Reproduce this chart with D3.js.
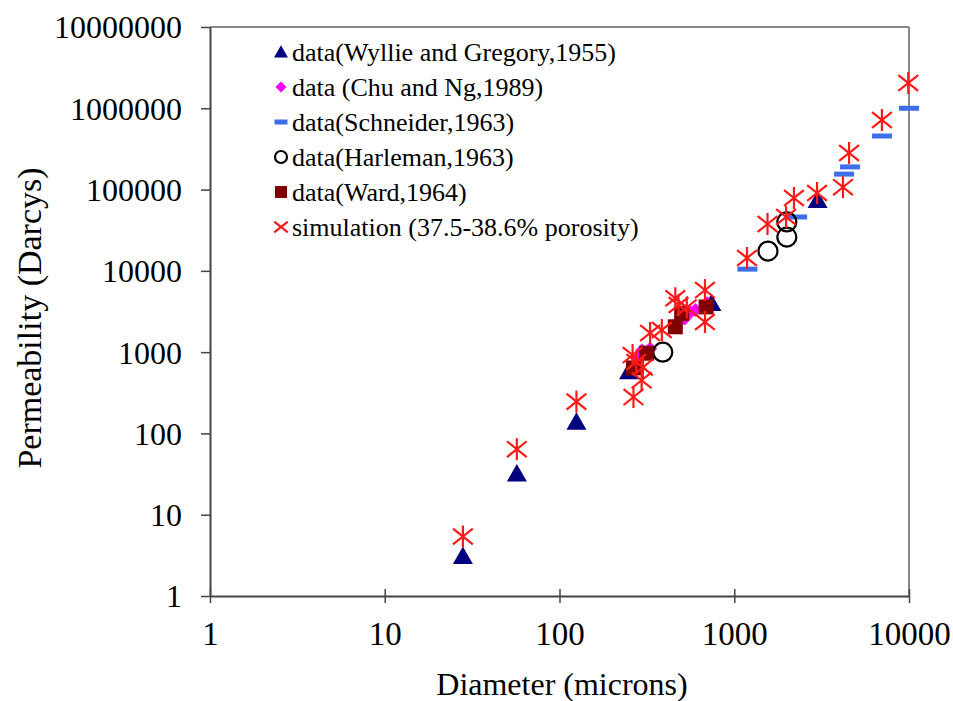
<!DOCTYPE html>
<html>
<head>
<meta charset="utf-8">
<script src="https://cdn.jsdelivr.net/npm/d3@7"></script>
<style>
  html, body { margin: 0; padding: 0; background: #fff; }
  svg text { font-family: "Liberation Serif", "Tinos", "Times New Roman", "DejaVu Serif", serif !important; fill: #000; }
</style>
</head>
<body>
<svg id="chart" width="953" height="701"></svg>
<script>
// ---------- data ----------
const xTicks = [1, 10, 100, 1000, 10000];
const yTicks = [1, 10, 100, 1000, 10000, 100000, 1000000, 10000000];

const wyllie = [
  [28, 3.1], [57, 32], [125, 139], [250, 580], [740, 4000], [3000, 74000]
];
const chu = [
  [270, 700], [285, 850], [297, 1050], [330, 1100], [480, 2400],
  [520, 2600], [560, 3100], [600, 3300], [700, 4000]
];
const schneider = [
  [1190, 10500], [2290, 46000], [4250, 155000], [4600, 190000],
  [7000, 456000], [10000, 1000000]
];
const harleman = [
  [390, 1000], [1560, 17500], [2000, 26000], [2000, 40000]
];
const ward = [
  [265, 640], [315, 970], [460, 2050], [500, 3000], [690, 3600]
];
const simulation = [
  [28, 5.4], [57, 64], [125, 246],
  [265, 280], [295, 450], [262, 920], [300, 650], [275, 756],
  [330, 1720], [385, 1870], [460, 4600], [480, 3800], [535, 3550],
  [680, 5800], [680, 2350],
  [1183, 14400], [1550, 37700], [1980, 46000], [2196, 78700],
  [2977, 90700], [4190, 107000], [4540, 282000], [7000, 718000], [9900, 2050000]
];
const legendLabels = [
  "data(Wyllie and Gregory,1955)",
  "data (Chu and Ng,1989)",
  "data(Schneider,1963)",
  "data(Harleman,1963)",
  "data(Ward,1964)",
  "simulation (37.5-38.6% porosity)"
];

// ---------- chart ----------
const FONT = '"Liberation Serif", "Tinos", "Times New Roman", serif';
const svg = d3.select("#chart");
const mLeft = 210, mRight = 909, mTop = 27, mBottom = 596;
const x = d3.scaleLog().domain([1, 10000]).range([mLeft, mRight]);
const y = d3.scaleLog().domain([1, 10000000]).range([mBottom, mTop]);

// frame (top/right)
svg.append("line").attr("x1", mLeft).attr("x2", mRight).attr("y1", mTop).attr("y2", mTop)
  .attr("stroke", "#888").attr("stroke-width", 2);
svg.append("line").attr("x1", mRight).attr("x2", mRight).attr("y1", mTop).attr("y2", mBottom)
  .attr("stroke", "#888").attr("stroke-width", 2);

// axes
const xAxis = d3.axisBottom(x).tickValues(xTicks).tickFormat(d3.format("d"))
  .tickSizeInner(0).tickSizeOuter(0);
const gx = svg.append("g").attr("transform", `translate(0,${mBottom})`).call(xAxis)
  .attr("font-family", FONT);
gx.select(".domain").attr("stroke", "#444").attr("stroke-width", 2);
gx.selectAll(".tick line").remove();
gx.selectAll(".tick").append("line").attr("y1", -7).attr("y2", 7)
  .attr("stroke", "#444").attr("stroke-width", 1.5);
gx.selectAll(".tick text").attr("y", 26).attr("dy", "0.71em")
  .attr("font-size", 33).attr("fill", "#000");

const yAxis = d3.axisLeft(y).tickValues(yTicks).tickFormat(d3.format("d"))
  .tickSizeInner(0).tickSizeOuter(0);
const gy = svg.append("g").attr("transform", `translate(${mLeft},0)`).call(yAxis)
  .attr("font-family", FONT);
gy.select(".domain").attr("stroke", "#444").attr("stroke-width", 2);
gy.selectAll(".tick line").remove();
gy.selectAll(".tick").append("line").attr("x1", -9).attr("x2", 0)
  .attr("stroke", "#444").attr("stroke-width", 1.5);
gy.selectAll(".tick text").attr("x", -28).attr("dy", "0.34em")
  .attr("font-size", 32).attr("fill", "#000");

// axis titles
svg.append("text").attr("x", 562).attr("y", 695)
  .attr("text-anchor", "middle").attr("font-family", FONT).attr("font-size", 32)
  .text("Diameter (microns)");
svg.append("text").attr("transform", `translate(41,${318}) rotate(-90)`)
  .attr("text-anchor", "middle").attr("font-family", FONT).attr("font-size", 34)
  .text("Permeability (Darcys)");

// marker drawers
const colors = {
  wyllie: "#000080", chu: "#ff00ff", schneider: "#3f6fe8",
  harleman: "#000", ward: "#800000", sim: "#ff1a1a"
};
function triangle(g, s) {
  const h = s * 0.87;
  g.append("path").attr("d", `M0,${-h * 0.55}L${s / 2},${h * 0.45}L${-s / 2},${h * 0.45}Z`)
    .attr("fill", colors.wyllie);
}
function diamond(g, s) {
  g.append("path").attr("d", `M0,${-s / 2}L${s / 2},0L0,${s / 2}L${-s / 2},0Z`)
    .attr("fill", colors.chu);
}
function dash(g, s) {
  g.append("rect").attr("x", -s / 2).attr("y", -2.5).attr("width", s).attr("height", 5)
    .attr("fill", colors.schneider);
}
function circle(g, s) {
  g.append("circle").attr("r", s / 2).attr("fill", "none")
    .attr("stroke", colors.harleman).attr("stroke-width", 2.2);
}
function square(g, s) {
  g.append("rect").attr("x", -s / 2).attr("y", -s / 2).attr("width", s).attr("height", s)
    .attr("fill", colors.ward);
}
function asterisk(g, s, vertical = true) {
  const r = s / 2;
  const dx = r * 0.9, dy = r * 0.72;
  if (vertical) g.append("line").attr("x1", 0).attr("y1", -r).attr("x2", 0).attr("y2", r)
    .attr("stroke", colors.sim).attr("stroke-width", 2.2);
  g.append("line").attr("x1", -dx).attr("y1", -dy).attr("x2", dx).attr("y2", dy)
    .attr("stroke", colors.sim).attr("stroke-width", 2.2);
  g.append("line").attr("x1", -dx).attr("y1", dy).attr("x2", dx).attr("y2", -dy)
    .attr("stroke", colors.sim).attr("stroke-width", 2.2);
}

const series = [
  { data: wyllie, draw: (g) => triangle(g, 20) },
  { data: chu, draw: (g) => diamond(g, 14) },
  { data: schneider, draw: (g) => dash(g, 20) },
  { data: harleman, draw: (g) => circle(g, 19) },
  { data: ward, draw: (g) => square(g, 15) },
  { data: simulation, draw: (g) => asterisk(g, 22) }
];
series.forEach(s => {
  svg.append("g").selectAll("g").data(s.data).join("g")
    .attr("transform", d => `translate(${x(d[0])},${y(d[1])})`)
    .each(function () { s.draw(d3.select(this)); });
});

// legend
const legendDraw = [
  (g) => triangle(g, 14), (g) => diamond(g, 11), (g) => dash(g, 13),
  (g) => circle(g, 12), (g) => square(g, 12), (g) => asterisk(g, 15, false)
];
const lg = svg.append("g");
legendLabels.forEach((lab, i) => {
  const yy = 52 + i * 35;
  const m = lg.append("g").attr("transform", `translate(281,${yy})`);
  legendDraw[i](m);
  lg.append("text").attr("x", 292).attr("y", yy).attr("dy", "0.35em")
    .attr("font-family", FONT).attr("font-size", 26).text(lab);
});
</script>
</body>
</html>
